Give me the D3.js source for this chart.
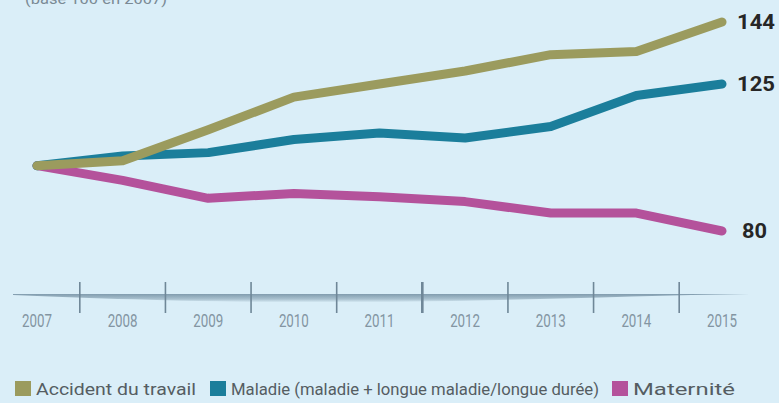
<!DOCTYPE html>
<html>
<head>
<meta charset="utf-8">
<script src="https://cdn.jsdelivr.net/npm/d3@7/dist/d3.min.js"></script>
<style>
  html, body { margin: 0; padding: 0; background: #daeef8; }
  svg { display: block; }
</style>
</head>
<body>
<svg id="chart" width="779" height="403"></svg>
<script>
// Index values, base 100 in 2007
const years = ["2007", "2008", "2009", "2010", "2011", "2012", "2013", "2014", "2015"];
const accidentTravail = [100, 101.5, 111, 121, 125, 129, 134, 135, 144];
const maladie = [100, 103, 104, 108, 110, 108.5, 112, 121.5, 125];
const maternite = [100, 95.5, 90, 91.5, 90.5, 89, 85.5, 85.5, 80];
const seriesNames = ["Accident du travail", "Maladie (maladie + longue maladie/longue durée)", "Maternité"];
const seriesColors = ["#9b9b5e", "#1b7e9b", "#b4529b"];
const subtitle = "(base 100 en 2007)";

const series = [accidentTravail, maladie, maternite].map((values, i) => ({
  name: seriesNames[i],
  color: seriesColors[i],
  values: values
}));

const svg = d3.select("#chart");
const condensed = "'Roboto', 'Liberation Sans', sans-serif";

const x = d3.scalePoint().domain(years).range([37, 722]);
const y = d3.scaleLinear().domain([80, 144]).range([231, 22]);
const step = x.step();

// subtitle, partly above the top edge
svg.append("text")
  .attr("x", 25).attr("y", 4)
  .attr("font-family", condensed).attr("font-size", 15)
  .attr("fill", "#7a8a95")
  .attr("textLength", 142).attr("lengthAdjust", "spacingAndGlyphs")
  .text(subtitle);

// tapered axis band
const defs = svg.append("defs");
const grad = defs.append("linearGradient").attr("id", "band")
  .attr("x1", 0).attr("y1", 0).attr("x2", 0).attr("y2", 1);
grad.append("stop").attr("offset", "0%").attr("stop-color", "#819cae");
grad.append("stop").attr("offset", "60%").attr("stop-color", "#a9c1cf");
grad.append("stop").attr("offset", "100%").attr("stop-color", "#daeef8");

const xLeft = x(years[0]) - 24;
const xRight = x(years[years.length - 1]) + 28;
const band = d3.path();
band.moveTo(xLeft, 294);
band.lineTo(xRight, 294);
band.bezierCurveTo(620, 296, 480, 302, 330, 302.5);
band.bezierCurveTo(180, 302, 90, 298, xLeft, 295);
band.closePath();
svg.append("path").attr("d", band.toString()).attr("fill", "url(#band)");

// separators between years
const gaps = years.slice(0, -1).map(yr => x(yr) + step / 2);
svg.append("g").selectAll("line").data(gaps).join("line")
  .attr("x1", d => d).attr("x2", d => d)
  .attr("y1", 282).attr("y2", 313)
  .attr("stroke", "#6f8798")
  .attr("stroke-width", (d, i) => i === 4 ? 2.6 : 1.6);

// year labels
svg.append("g").selectAll("text").data(years).join("text")
  .attr("x", d => x(d)).attr("y", 327)
  .attr("text-anchor", "middle")
  .attr("font-family", condensed).attr("font-size", 18)
  .attr("fill", "#8395a2")
  .attr("textLength", 30).attr("lengthAdjust", "spacingAndGlyphs")
  .text(d => d);

// lines, drawn bottom series first
const line = d3.line().x((d, i) => x(years[i])).y(d => y(d));
svg.append("g").selectAll("path").data(series.slice().reverse()).join("path")
  .attr("d", d => line(d.values))
  .attr("fill", "none")
  .attr("stroke", d => d.color)
  .attr("stroke-width", 9)
  .attr("stroke-linecap", "round")
  .attr("stroke-linejoin", "round");

// end values
const last = years[years.length - 1];
svg.append("g").selectAll("text").data(series).join("text")
  .attr("x", d => x(last) + (d.values[d.values.length - 1] < 100 ? 20 : 15))
  .attr("y", d => y(d.values[d.values.length - 1]) + 7)
  .attr("font-family", condensed).attr("font-size", 21).attr("font-weight", 700)
  .attr("fill", "#262626")
  .attr("textLength", d => d.values[d.values.length - 1] < 100 ? 25 : 38)
  .attr("lengthAdjust", "spacingAndGlyphs")
  .text(d => d3.format("d")(d.values[d.values.length - 1]));

// legend
const legendX = [15, 210, 612];
const legendW = [160, 368, 102];
const lg = svg.append("g").selectAll("g").data(series).join("g")
  .attr("transform", (d, i) => `translate(${legendX[i]},381)`);
lg.append("rect").attr("width", 16).attr("height", 15).attr("fill", d => d.color);
lg.append("text")
  .attr("x", 21).attr("y", 14)
  .attr("font-family", condensed).attr("font-size", 17)
  .attr("fill", "#555d62")
  .attr("textLength", (d, i) => legendW[i]).attr("lengthAdjust", "spacingAndGlyphs")
  .text(d => d.name);
</script>
</body>
</html>
